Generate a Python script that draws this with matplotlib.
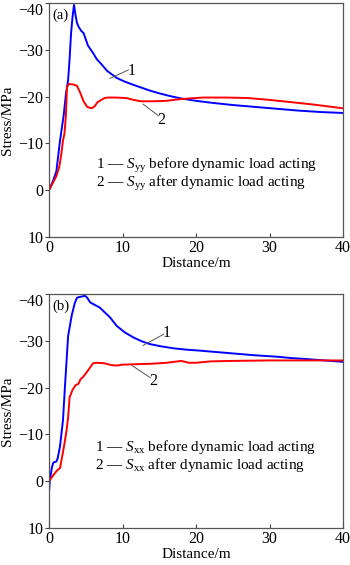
import matplotlib
matplotlib.use('Agg')
import matplotlib.pyplot as plt

plt.rcParams['font.family'] = ['Liberation Serif', 'DejaVu Serif']
plt.rcParams['mathtext.fontset'] = 'custom'
plt.rcParams['mathtext.rm'] = 'Liberation Serif'
plt.rcParams['mathtext.it'] = 'Liberation Serif:italic'
plt.rcParams['axes.unicode_minus'] = True

# panel (a): Syy
a_before_x = [0, 0.5, 1.0, 1.5, 2.0, 2.3, 2.6, 2.8, 3.0, 3.2, 3.4, 3.6, 3.8, 4.0, 4.4, 4.7, 5.3, 6.0, 6.5,
              7.2, 7.9, 9.2, 10.3, 11.5, 12.6, 13.7, 15, 16.5, 18, 20, 22, 25, 28, 31, 34, 37, 40]
a_before_y = [0, -1.8, -4, -10.6, -16, -20.5, -23.5, -28, -33.5, -37, -39.6, -37.5, -35.8, -35, -34, -33.6, -30.9,
              -29.3, -28, -26.8, -25.5, -24, -23.2, -22.5, -21.9, -21.3, -20.7, -20.1, -19.6, -19.1, -18.7, -18.2,
              -17.8, -17.4, -17.0, -16.7, -16.5]
a_after_x = [0, 0.5, 1.0, 1.4, 1.7, 1.9, 2.1, 2.3, 2.45, 2.7, 3.3, 3.8, 4.2, 4.7, 5.2, 5.8, 6.2, 6.6, 7.0, 7.6,
             8.0, 9, 10.5, 11.5, 12.5, 14, 16, 17.5, 19, 21, 24, 27, 30, 33, 36, 38, 40]
a_after_y = [0, -1.5, -3, -5, -8, -10.6, -12, -16, -22, -22.7, -22.6, -22.3, -21, -19, -17.8, -17.5, -17.9, -18.8,
             -19.2, -19.7, -19.8, -19.8, -19.7, -19.3, -19.0, -19.0, -19.1, -19.4, -19.6, -19.8, -19.8, -19.7,
             -19.3, -18.8, -18.3, -17.9, -17.5]

# panel (b): Sxx
b_before_x = [0, 0.1, 0.4, 0.6, 1.0, 1.2, 1.5, 1.9, 2.2, 2.6, 3.1, 3.5, 3.8, 4.3, 4.9, 5.2, 5.6, 6.9, 8.3,
              9.2, 10.3, 11.5, 12.6, 13.7, 15.3, 16.9, 18.7, 20.5, 22.7, 25, 28, 31, 33, 35, 37.5, 40]
b_before_y = [2.5, 0, -3, -4, -4.2, -5, -7.5, -13, -21, -31, -35.5, -38, -39.2, -39.4, -39.6, -39.2, -38.2, -37.1,
              -35, -33.2, -31.8, -30.7, -29.9, -29.3, -28.8, -28.4, -28.1, -27.9, -27.6, -27.3, -26.9, -26.6,
              -26.3, -26.1, -25.8, -25.5]
b_after_x = [0, 0.6, 1.1, 1.5, 1.9, 2.1, 2.4, 2.6, 2.8, 3.2, 3.6, 4.0, 4.3, 4.6, 5.0, 5.6, 6.0, 6.5, 7.5,
             8.5, 9.2, 10, 12, 14, 16, 18, 19, 20, 22, 25, 30, 35, 40]
b_after_y = [0, -1.3, -2.3, -2.8, -6.2, -8, -11, -13.6, -17.9, -19.5, -20.5, -20.8, -21.8, -22.2, -23, -24.3,
             -25.2, -25.3, -25.2, -24.8, -24.7, -24.9, -25.0, -25.1, -25.3, -25.7, -25.3, -25.3, -25.6, -25.7,
             -25.8, -25.8, -25.8]

yticks = [-40, -30, -20, -10, 0, 10]
xticks = [0, 10, 20, 30, 40]

panels = [
    dict(tag='(a)', sub='yy', x1=a_before_x, y1=a_before_y, x2=a_after_x, y2=a_after_y,
         lab1=(11.2, -25.5), lead1=((8.3, -23.9), (10.8, -25.7)),
         lab2=(15.3, -14.9), lead2=((12.8, -18.4), (14.9, -15.9)),
         leg=(6.4, -5.3, -1.5), rect=[0.14, 0.5805, 0.84, 0.4142]),
    dict(tag='(b)', sub='xx', x1=b_before_x, y1=b_before_y, x2=b_after_x, y2=b_after_y,
         lab1=(16.0, -31.7), lead1=((12.8, -29.0), (15.6, -31.4)),
         lab2=(14.2, -21.3), lead2=((11.3, -24.7), (13.8, -22.1)),
         leg=(6.3, -7.2, -3.4), rect=[0.14, 0.0655, 0.84, 0.4142]),
]

fig = plt.figure(figsize=(3.5, 5.65), dpi=100)

for p in panels:
    ax = fig.add_axes(p['rect'])
    ax.plot(p['x1'], p['y1'], color='#0000ff', lw=1.4)
    ax.plot(p['x2'], p['y2'], color='#ff0000', lw=1.4)
    ax.set_xlim(0, 40)
    ax.set_ylim(10, -40)
    ax.set_xticks(xticks)
    ax.set_yticks(yticks)
    ax.set_yticklabels([str(t).replace('-', '\u2212') for t in yticks])
    ax.get_yticklabels()[0].set_va('top')
    ax.tick_params(axis='x', direction='in', length=3, labelsize=11.5, pad=2, color='#444444')
    ax.tick_params(axis='y', direction='out', length=3, labelsize=11.5, pad=1, color='#444444')
    for s in ax.spines.values():
        s.set_color('#555555')
        s.set_linewidth(0.9)
    ax.set_xlabel('Distance/m', fontsize=11, labelpad=1)
    ax.set_ylabel('Stress/MPa', fontsize=11, labelpad=3)
    ax.text(0.012, 0.975, p['tag'], transform=ax.transAxes, fontsize=10.5, va='top', ha='left')

    # curve labels with leader lines
    for lab, lead, num in [(p['lab1'], p['lead1'], '1'), (p['lab2'], p['lead2'], '2')]:
        ax.plot([lead[0][0], lead[1][0]], [lead[0][1], lead[1][1]], color='#555555', lw=0.7)
        ax.text(lab[0], lab[1], num, fontsize=11.5, ha='center', va='center')

    lx, ly1, ly2 = p['leg']
    sub = p['sub']
    ax.text(lx, ly1, '1 \u2014 $S_{\\rm ' + sub + '}$ before dynamic load acting', fontsize=11, va='center')
    ax.text(lx, ly2, '2 \u2014 $S_{\\rm ' + sub + '}$ after dynamic load acting', fontsize=11, va='center')

fig.savefig('out.png', dpi=100)
